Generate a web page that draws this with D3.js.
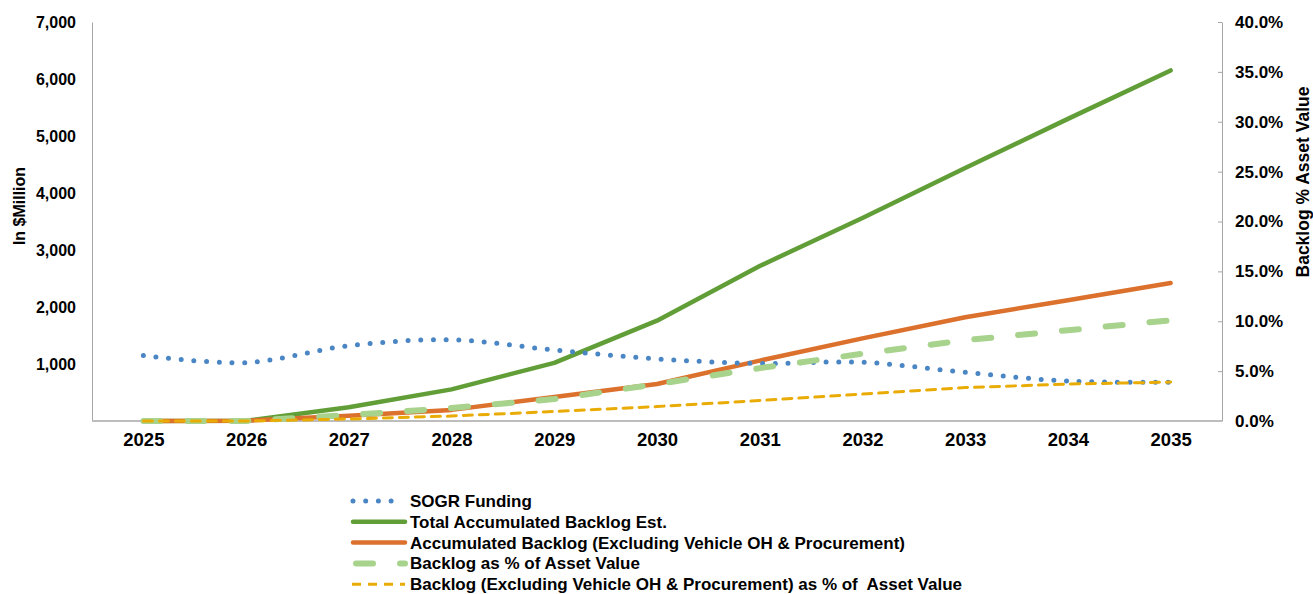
<!DOCTYPE html>
<html>
<head>
<meta charset="utf-8">
<script src="https://cdn.jsdelivr.net/npm/d3@7"></script>
<style>
  body { margin: 0; background: #fff; }
  svg text { font-family: "Liberation Sans", Arial, sans-serif; font-weight: bold; fill: #000; white-space: pre; }
</style>
</head>
<body>
<svg id="chart" width="1313" height="594"></svg>
<script>
// values
var years = [2025, 2026, 2027, 2028, 2029, 2030, 2031, 2032, 2033, 2034, 2035];
var sogrFunding = [1150, 1025, 1320, 1425, 1245, 1090, 1010, 1030, 855, 700, 680];
var totalBacklog = [0, 5, 240, 555, 1020, 1760, 2720, 3560, 4440, 5300, 6150];
var backlogExcl = [0, 5, 90, 195, 420, 650, 1060, 1450, 1820, 2120, 2420];
var backlogPct = [0, 0, 0.6, 1.3, 2.2, 3.7, 5.3, 6.75, 8.1, 9.1, 10.1];
var backlogExclPct = [0, 0, 0.2, 0.5, 0.95, 1.45, 2.05, 2.7, 3.35, 3.7, 3.9];
var leftTicks = [1000, 2000, 3000, 4000, 5000, 6000, 7000];
var rightTicks = [0, 5, 10, 15, 20, 25, 30, 35, 40];
var legendNames = ["SOGR Funding", "Total Accumulated Backlog Est.",
  "Accumulated Backlog (Excluding Vehicle OH & Procurement)",
  "Backlog as % of Asset Value",
  "Backlog (Excluding Vehicle OH & Procurement) as % of  Asset Value"];

var svg = d3.select("#chart");
var plotL = 92, plotR = 1222, plotT = 22, plotB = 421;

var x = d3.scalePoint().domain(years).range([plotL, plotR]).padding(0.5);
var y = d3.scaleLinear().domain([0, 7000]).range([plotB, plotT]);
var y2 = d3.scaleLinear().domain([0, 40]).range([plotB, plotT]);

// axes
var gl = svg.append("g").attr("transform", "translate(" + plotL + ",0)")
  .call(d3.axisLeft(y).tickValues(leftTicks).tickSize(0).tickPadding(16).tickFormat(d3.format(",")));
gl.select(".domain").attr("stroke", "#a6a6a6");
gl.selectAll("text").style("font-size", "16px");

var gr = svg.append("g").attr("transform", "translate(" + plotR + ",0)")
  .call(d3.axisRight(y2).tickValues(rightTicks).tickSizeInner(-4).tickSizeOuter(0).tickPadding(13)
    .tickFormat(function(d){ return d.toFixed(1) + "%"; }));
gr.select(".domain").attr("stroke", "#a6a6a6");
gr.selectAll("line").attr("stroke", "#a6a6a6");
gr.selectAll("text").style("font-size", "17px");

var gb = svg.append("g").attr("transform", "translate(0," + plotB + ")")
  .call(d3.axisBottom(x).tickSize(0).tickPadding(12));
gb.select(".domain").attr("stroke", "#bdbdbd").attr("stroke-width", 2).attr("d", "M" + plotL + ",0H" + plotR);
gb.selectAll("text").style("font-size", "18.5px");

svg.append("text").attr("transform", "translate(25,206) rotate(-90)")
  .attr("text-anchor", "middle").style("font-size", "16px").text("In $Million");
svg.append("text").attr("transform", "translate(1309,182) rotate(-90)")
  .attr("text-anchor", "middle").style("font-size", "17.5px").text("Backlog % Asset Value");

// series styles
var series = [
  {vals: totalBacklog, sc: y, color: "#619e38", w: 4.5, dash: null, curve: d3.curveLinear},
  {vals: backlogExcl, sc: y, color: "#db712c", w: 4.5, dash: null, curve: d3.curveLinear},
  {vals: sogrFunding, sc: y, color: "#4a86c4", w: 5, dash: "0,12.7", curve: d3.curveCardinal.tension(0)},
  {vals: backlogPct, sc: y2, color: "#a8d38d", w: 6, dash: "17,27", curve: d3.curveLinear},
  {vals: backlogExclPct, sc: y2, color: "#e9ac07", w: 3, dash: "9,7", curve: d3.curveLinear}
];

series.forEach(function(s){
  var line = d3.line().x(function(d,i){ return x(years[i]); }).y(function(d){ return s.sc(d); }).curve(s.curve);
  svg.append("path").datum(s.vals).attr("d", line)
    .attr("fill", "none").attr("stroke", s.color).attr("stroke-width", s.w)
    .attr("stroke-linecap", "round").attr("stroke-linejoin", "round")
    .attr("stroke-dasharray", s.dash);
});

// legend
var legendStyle = [series[2], series[0], series[1], series[3], series[4]];
var lg = svg.append("g");
legendNames.forEach(function(name, i){
  var s = legendStyle[i];
  var cy = 501 + i * 20.8;
  var x1 = 353, x2 = 405;
  if (i == 0) x2 = 393;
  if (i == 3) x1 = 356;
  if (i == 4) x1 = 352;
  lg.append("line").attr("x1", x1).attr("x2", x2).attr("y1", cy).attr("y2", cy)
    .attr("stroke", s.color).attr("stroke-width", s.w)
    .attr("stroke-linecap", (i == 4) ? "butt" : "round").attr("stroke-dasharray", s.dash);
  lg.append("text").attr("x", 410).attr("y", cy + 6).style("font-size", "17px").text(name);
});
</script>
</body>
</html>
